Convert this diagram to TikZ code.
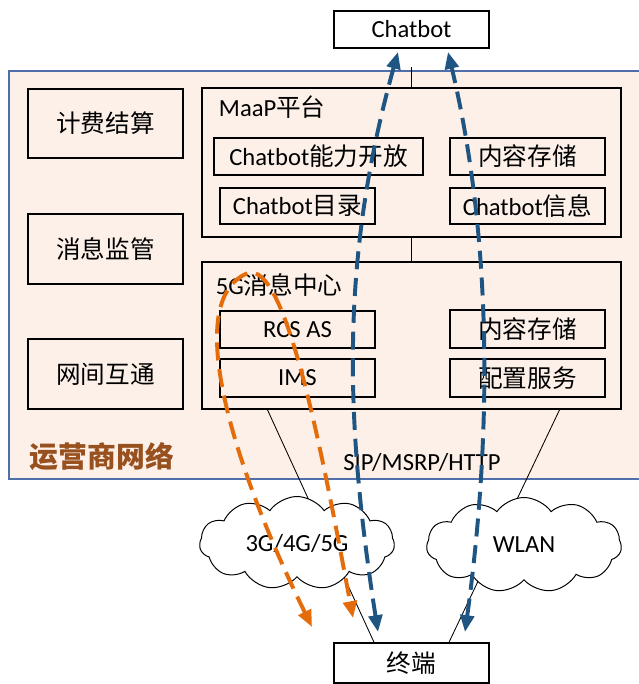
\documentclass[tikz,border=0pt]{standalone}
\usepackage{fontspec}
\setmainfont{Carlito}
\newfontfamily\cjk{Noto Sans CJK SC}
\usetikzlibrary{positioning,shapes.symbols,arrows.meta}
\definecolor{netfill}{RGB}{252,240,233}
\definecolor{netline}{RGB}{80,110,170}
\definecolor{netlabel}{RGB}{152,80,30}
\definecolor{flowblue}{RGB}{31,85,130}
\definecolor{floworange}{RGB}{228,108,10}

\begin{document}
\begin{tikzpicture}[x=0.025cm, y=-0.025cm, font=\fontsize{17.5}{21}\selectfont,
  box/.style={draw=black, line width=1.1pt, rectangle, inner sep=0pt, align=center},
  netcloud/.style={cloud, cloud puffs=11, cloud puff arc=110, cloud ignores aspect, draw=black, fill=white, line width=0.7pt, inner sep=0pt, minimum width=4.875cm},
  wire/.style={draw=black, line width=0.6pt},
  flowline/.style={line width=2.8pt, dash pattern=on 0.45cm off 0.22cm, <->, >={Triangle[length=0.42cm,width=0.34cm]}}]
\useasboundingbox (0,0) rectangle (638,684);
%OPERATOR NETWORK
\node (net) at (325.5,275) [rectangle, draw=netline, line width=0.9pt, fill=netfill, minimum width=15.825cm, minimum height=10.2cm] {};
\node (netname) at (25,457) [anchor=west, text=netlabel, font=\fontsize{20.5}{24}\selectfont] {\cjk\bfseries 运营商网络};
%%ENDS
\node (chatbot) at (411.5,29.5) [box, fill=white, minimum width=3.875cm, minimum height=0.925cm] {Chatbot};
\node (zd) at (411.5,663) [box, fill=white, minimum width=3.875cm, minimum height=1cm] {\cjk 终端};
%%LEFT COLUMN
\node (billing) at (105.5,123.5) [box, minimum width=3.875cm, minimum height=1.725cm] {\cjk 计费结算};
\node (monitor) at (105.5,249) [box, minimum width=3.875cm, minimum height=1.75cm] {\cjk 消息监管};
\node (interwork) at (105.5,374) [box, minimum width=3.875cm, minimum height=1.75cm] {\cjk 网间互通};
%%MAAP
\node (maap) at (411.5,162.5) [box, minimum width=10.475cm, minimum height=3.725cm] {};
\node (maapname) at (214,107) [anchor=west] {MaaP\cjk 平台};
\node (cbopen) at (318.5,156.5) [box, minimum width=5.225cm, minimum height=0.925cm] {Chatbot\cjk 能力开放};
\node (cbdir) at (297.5,206) [box, minimum width=3.875cm, minimum height=0.9cm] {Chatbot\cjk 目录};
\node (store1) at (527.5,156.5) [box, minimum width=3.875cm, minimum height=0.925cm] {\cjk 内容存储};
\node (cbinfo) at (527.5,206) [box, minimum width=3.875cm, minimum height=0.9cm] {Chatbot\cjk 信息};
%%5G MESSAGE CENTRE
\node (msgc) at (411.5,335.5) [box, minimum width=10.475cm, minimum height=3.675cm] {};
\node (msgcname) at (211,285) [anchor=west] {5G\cjk 消息中心};
\node (rcs) at (297.5,329.5) [box, minimum width=3.875cm, minimum height=0.925cm] {RCS AS};
\node (ims) at (297.5,378) [box, minimum width=3.875cm, minimum height=0.95cm] {IMS};
\node (store2) at (527.5,329) [box, minimum width=3.875cm, minimum height=0.95cm] {\cjk 内容存储};
\node (config) at (527.5,378) [box, minimum width=3.875cm, minimum height=0.95cm] {\cjk 配置服务};
\node (sip) at (422,462) {SIP/MSRP/HTTP};
%%CONNECTIONS
\coordinate (cbtap) at (411.5,67);
\draw [wire] (cbtap) -- (maap.north);
\draw [wire] (maap.south) -- (msgc.north);
\draw [wire] ([xshift=-3.6cm]msgc.south) -- ([xshift=-0.9375cm]zd.north);
\draw [wire] ([xshift=3.7cm]msgc.south) -- ([xshift=0.9375cm]zd.north);
%%ACCESS
\node (mobile) at (297,543) [netcloud, minimum height=2.325cm] {3G/4G/5G};
\node (wlan) at (524,545) [netcloud, minimum height=2.375cm] {WLAN};
%%FLOWS
\coordinate (upL) at (398,52);
\coordinate (downL) at (378,632);
\coordinate (upR) at (448,52);
\coordinate (downR) at (465,632);
\draw [flowline, flowblue] (downL) .. controls (345,420) and (340,260) .. (upL);
\draw [flowline, flowblue] (downR) .. controls (490,450) and (495,250) .. (upR);
\coordinate (loopA) at (312,627);
\coordinate (looptop) at (248,273);
\coordinate (loopB) at (353,618);
\draw [flowline, floworange] (loopA) .. controls (235,470) and (180,300) .. (looptop) .. controls (285,262) and (320,440) .. (loopB);
\end{tikzpicture}
\end{document}
